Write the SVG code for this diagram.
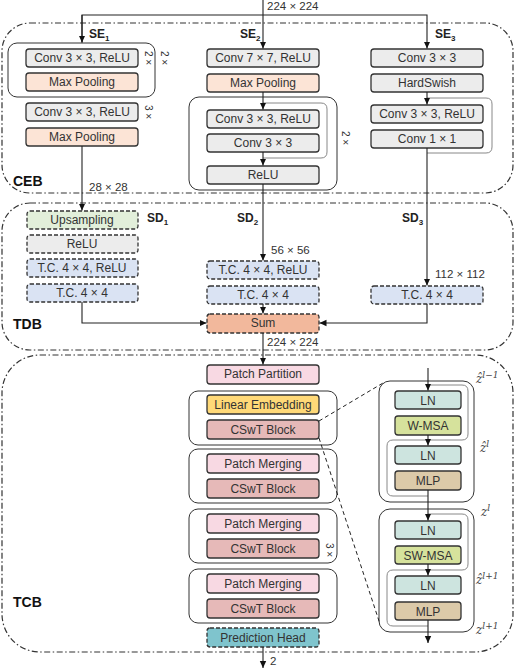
<svg xmlns="http://www.w3.org/2000/svg" width="515" height="669" viewBox="0 0 515 669">
<defs>
<marker id="ah" markerWidth="8" markerHeight="8" refX="7" refY="4" orient="auto" markerUnits="userSpaceOnUse">
<path d="M0,0.8 L7,4 L0,7.2 Z" fill="#111"/>
</marker>
<style>
.bx{stroke:#333;stroke-width:1.3}
.ds{stroke-dasharray:4 2}
.gr{fill:#ececec}
.mp{fill:#fce4d6}
.up{fill:#e2efda}
.tc{fill:#dae3f3}
.sum{fill:#f2b89c}
.pk{fill:#f8d9e3}
.le{fill:#ffd978}
.cs{fill:#e6b9b8}
.ph{fill:#7fc4cd}
.ln{fill:#cde4df}
.ms{fill:#d6e29c}
.ml{fill:#dccaa9}
.grp{fill:none;stroke:#333;stroke-width:1}
.dd{fill:none;stroke:#333;stroke-width:1.2;stroke-dasharray:6 2.5 1.5 2.5}
.t{font-family:"Liberation Sans",Arial,sans-serif;font-size:12px;fill:#333;text-anchor:middle}
.lb{font-family:"Liberation Sans",Arial,sans-serif;font-size:12px;fill:#222;font-weight:bold}
.big{font-family:"Liberation Sans",Arial,sans-serif;font-size:14px;fill:#111;font-weight:bold}
.dim{font-family:"Liberation Sans",Arial,sans-serif;font-size:11.5px;fill:#333}
.sm{font-family:"Liberation Sans",Arial,sans-serif;font-size:10px;fill:#333}
.mt{font-family:"DejaVu Serif","Liberation Serif",serif;font-style:italic;font-size:12px;fill:#444}
.c{fill:none;stroke:#222;stroke-width:1.1}
.loop{fill:none;stroke:#888;stroke-width:1}
.dl{fill:none;stroke:#222;stroke-width:1;stroke-dasharray:4 3}
</style>
</defs>

<!-- containers -->
<g id="CEB">
<rect class="dd" x="2" y="23" width="511" height="170" rx="28"/>
<text class="big" x="13" y="186">CEB</text>
</g>
<g id="TDB">
<rect class="dd" x="2" y="203" width="511" height="147" rx="28"/>
<text class="big" x="13" y="329">TDB</text>
</g>
<g id="TCB">
<rect class="dd" x="2" y="355" width="511" height="297" rx="38"/>
<text class="big" x="13" y="607">TCB</text>
</g>

<!-- SE1 -->
<g id="SE1">
<text class="lb" x="89" y="38">SE<tspan font-size="8" dy="3">1</tspan></text>
<rect class="grp" x="8" y="43" width="147" height="54" rx="9"/>
<rect class="bx gr" x="26" y="49" width="112" height="18" rx="3"/>
<text class="t" x="82" y="62">Conv 3 × 3, ReLU</text>
<rect class="bx mp" x="26" y="73" width="112" height="18" rx="3"/>
<text class="t" x="82" y="86">Max Pooling</text>
<text class="sm" transform="translate(145,51) rotate(90)">2 ×</text>
<text class="sm" transform="translate(161,51) rotate(90)">2 ×</text>
<rect class="bx gr" x="26" y="103" width="112" height="18" rx="3"/>
<text class="t" x="82" y="116">Conv 3 × 3, ReLU</text>
<text class="sm" transform="translate(145,105) rotate(90)">3 ×</text>
<rect class="bx mp" x="26" y="128" width="112" height="18" rx="3"/>
<text class="t" x="82" y="141">Max Pooling</text>
</g>

<!-- SE2 -->
<g id="SE2">
<text class="lb" x="240" y="38">SE<tspan font-size="8" dy="3">2</tspan></text>
<rect class="bx gr" x="207" y="49" width="112" height="18" rx="3"/>
<text class="t" x="263" y="62">Conv 7 × 7, ReLU</text>
<rect class="bx mp" x="207" y="74" width="112" height="18" rx="3"/>
<text class="t" x="263" y="87">Max Pooling</text>
<rect class="grp" x="189" y="97" width="148" height="93" rx="10"/>
<path class="loop" d="M263,103 H321 Q327,103 327,109 V152 Q327,158 321,158 H263"/>
<rect class="bx gr" x="207" y="110" width="112" height="18" rx="3"/>
<text class="t" x="263" y="123">Conv 3 × 3, ReLU</text>
<rect class="bx gr" x="207" y="134" width="112" height="18" rx="3"/>
<text class="t" x="263" y="147">Conv 3 × 3</text>
<text class="sm" transform="translate(342,131) rotate(90)">2 ×</text>
<rect class="bx gr" x="207" y="166" width="112" height="18" rx="3"/>
<text class="t" x="263" y="179">ReLU</text>
</g>

<!-- SE3 -->
<g id="SE3">
<text class="lb" x="435" y="38">SE<tspan font-size="8" dy="3">3</tspan></text>
<rect class="bx gr" x="371" y="49" width="112" height="18" rx="3"/>
<text class="t" x="427" y="62">Conv 3 × 3</text>
<rect class="bx gr" x="371" y="74" width="112" height="18" rx="3"/>
<text class="t" x="427" y="87">HardSwish</text>
<path class="loop" d="M427,98 H486 Q492,98 492,104 V147 Q492,153 486,153 H427"/>
<rect class="bx gr" x="371" y="105" width="112" height="18" rx="3"/>
<text class="t" x="427" y="118">Conv 3 × 3, ReLU</text>
<rect class="bx gr" x="371" y="130" width="112" height="18" rx="3"/>
<text class="t" x="427" y="143">Conv 1 × 1</text>
</g>

<!-- SD1 -->
<g id="SD1">
<text class="lb" x="147" y="222">SD<tspan font-size="8" dy="3">1</tspan></text>
<rect class="bx ds up" x="27" y="211" width="111" height="18" rx="3"/>
<text class="t" x="82" y="224">Upsampling</text>
<rect class="bx ds gr" x="27" y="235" width="111" height="18" rx="3"/>
<text class="t" x="82" y="248">ReLU</text>
<rect class="bx ds tc" x="27" y="259" width="111" height="18" rx="3"/>
<text class="t" x="82" y="272">T.C.  4 × 4, ReLU</text>
<rect class="bx ds tc" x="27" y="284" width="111" height="18" rx="3"/>
<text class="t" x="82" y="297">T.C.  4 × 4</text>
</g>

<!-- SD2 -->
<g id="SD2">
<text class="lb" x="237" y="222">SD<tspan font-size="8" dy="3">2</tspan></text>
<rect class="bx ds tc" x="207" y="261" width="112" height="18" rx="3"/>
<text class="t" x="263" y="274">T.C.  4 × 4, ReLU</text>
<rect class="bx ds tc" x="207" y="286" width="112" height="18" rx="3"/>
<text class="t" x="263" y="299">T.C.  4 × 4</text>
</g>

<!-- SD3 -->
<g id="SD3">
<text class="lb" x="402" y="222">SD<tspan font-size="8" dy="3">3</tspan></text>
<rect class="bx ds tc" x="371" y="286" width="112" height="18" rx="3"/>
<text class="t" x="427" y="299">T.C.  4 × 4</text>
</g>

<g id="Sum">
<rect class="bx ds sum" x="207" y="314" width="112" height="19" rx="3"/>
<text class="t" x="263" y="327">Sum</text>
</g>

<!-- TCB column -->
<g id="PatchPartition">
<rect class="bx pk" x="207" y="365" width="112" height="19" rx="3"/>
<text class="t" x="263" y="378">Patch Partition</text>
</g>
<g id="Stage1">
<rect class="grp" x="189" y="391" width="148" height="54" rx="9"/>
<rect class="bx le" x="207" y="395" width="112" height="19" rx="3"/>
<text class="t" x="263" y="408.5">Linear Embedding</text>
<rect class="bx cs" x="207" y="420" width="112" height="19" rx="3"/>
<text class="t" x="263" y="433.5">CSwT Block</text>
</g>
<g id="Stage2">
<rect class="grp" x="189" y="449" width="148" height="54" rx="9"/>
<rect class="bx pk" x="207" y="454" width="112" height="19" rx="3"/>
<text class="t" x="263" y="467.5">Patch Merging</text>
<rect class="bx cs" x="207" y="479" width="112" height="19" rx="3"/>
<text class="t" x="263" y="492.5">CSwT Block</text>
</g>
<g id="Stage3">
<rect class="grp" x="189" y="509" width="148" height="54" rx="9"/>
<rect class="bx pk" x="207" y="514" width="112" height="19" rx="3"/>
<text class="t" x="263" y="527.5">Patch Merging</text>
<rect class="bx cs" x="207" y="539" width="112" height="19" rx="3"/>
<text class="t" x="263" y="552.5">CSwT Block</text>
<text class="sm" transform="translate(326,543) rotate(90)">3 ×</text>
</g>
<g id="Stage4">
<rect class="grp" x="189" y="569" width="148" height="54" rx="9"/>
<rect class="bx pk" x="207" y="574" width="112" height="19" rx="3"/>
<text class="t" x="263" y="587.5">Patch Merging</text>
<rect class="bx cs" x="207" y="599" width="112" height="19" rx="3"/>
<text class="t" x="263" y="612.5">CSwT Block</text>
</g>
<g id="PredictionHead">
<rect class="bx ds ph" x="207" y="628" width="112" height="19" rx="3"/>
<text class="t" x="263" y="641.5">Prediction Head</text>
</g>

<!-- Transformer blocks -->
<g id="Block1">
<rect class="grp" x="379" y="381" width="95" height="121" rx="11"/>
<path class="loop" d="M428,385 H462 Q468,385 468,391 V434 Q468,440 462,440 H393 Q387,440 387,446 V490 Q387,496 393,496 H428"/>
<rect class="bx ln" x="395" y="391" width="66" height="18" rx="3"/>
<text class="t" x="428" y="404.5">LN</text>
<rect class="bx ms" x="395" y="416" width="66" height="19" rx="3"/>
<text class="t" x="428" y="429.5">W-MSA</text>
<rect class="bx ln" x="395" y="446" width="66" height="18" rx="3"/>
<text class="t" x="428" y="459.5">LN</text>
<rect class="bx ml" x="395" y="471" width="66" height="19" rx="3"/>
<text class="t" x="428" y="484.5">MLP</text>
</g>
<g id="Block2">
<rect class="grp" x="379" y="509" width="95" height="123" rx="11"/>
<path class="loop" d="M428,514 H462 Q468,514 468,520 V564 Q468,570 462,570 H393 Q387,570 387,576 V620 Q387,626 393,626 H428"/>
<rect class="bx ln" x="395" y="521" width="66" height="18" rx="3"/>
<text class="t" x="428" y="534.5">LN</text>
<rect class="bx ms" x="395" y="546" width="66" height="18" rx="3"/>
<text class="t" x="428" y="559.5">SW-MSA</text>
<rect class="bx ln" x="395" y="576" width="66" height="18" rx="3"/>
<text class="t" x="428" y="589.5">LN</text>
<rect class="bx ml" x="395" y="602" width="66" height="18" rx="3"/>
<text class="t" x="428" y="615.5">MLP</text>
</g>

<!-- math labels -->
<g id="labels">
<text class="mt" x="476" y="383">ẑ<tspan font-size="9" dy="-5">l−1</tspan></text>
<text class="mt" x="480" y="452">ẑ<tspan font-size="9" dy="-5">l</tspan></text>
<text class="mt" x="481" y="516">z<tspan font-size="9" dy="-5">l</tspan></text>
<text class="mt" x="476" y="584">ẑ<tspan font-size="9" dy="-5">l+1</tspan></text>
<text class="mt" x="476" y="634">z<tspan font-size="9" dy="-5">l+1</tspan></text>
<text class="dim" x="267" y="10">224 × 224</text>
<text class="dim" x="89" y="191">28 × 28</text>
<text class="dim" x="271" y="254">56 × 56</text>
<text class="dim" x="435" y="278">112 × 112</text>
<text class="dim" x="267" y="346">224 × 224</text>
<text class="dim" x="270" y="665">2</text>
</g>

<!-- connectors -->
<g id="connectors">
<path class="c" d="M263,0 V48.5" marker-end="url(#ah)"/>
<path class="c" d="M82,42.5 V15 H427 V48.5" marker-end="url(#ah)"/>
<path class="c" d="M82,15 V42.5" marker-end="url(#ah)"/>
<path class="c" d="M82,146 V210.5" marker-end="url(#ah)"/>
<path class="c" d="M263,92 V109.5" marker-end="url(#ah)"/>
<path class="c" d="M263,152 V165.5" marker-end="url(#ah)"/>
<path class="c" d="M263,184 V260.5" marker-end="url(#ah)"/>
<path class="c" d="M427,92 V104.5" marker-end="url(#ah)"/>
<path class="c" d="M427,148 V285.5" marker-end="url(#ah)"/>
<path class="c" d="M82,302 V323 H206.5" marker-end="url(#ah)"/>
<path class="c" d="M263,304 V313.5" marker-end="url(#ah)"/>
<path class="c" d="M427,304 V323 H319.5" marker-end="url(#ah)"/>
<path class="c" d="M263,333 V364.5" marker-end="url(#ah)"/>
<path class="c" d="M263,647 V668" marker-end="url(#ah)"/>
<path class="c" d="M428,368 V390.5" marker-end="url(#ah)"/>
<path class="c" d="M428,435 V445.5" marker-end="url(#ah)"/>
<path class="c" d="M428,490 V520.5" marker-end="url(#ah)"/>
<path class="c" d="M428,564 V575.5" marker-end="url(#ah)"/>
<path class="c" d="M428,620 V643" marker-end="url(#ah)"/>
<path class="dl" d="M319,421 L383,383"/>
<path class="dl" d="M319,438 L380,624"/>
</g>
</svg>
